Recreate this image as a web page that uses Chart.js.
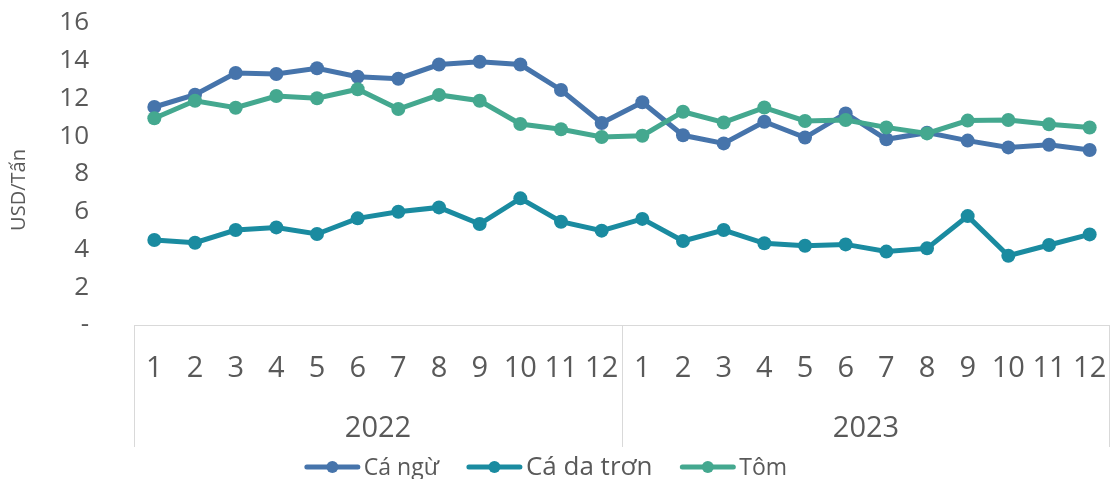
<!DOCTYPE html>
<html>
<head>
<meta charset="utf-8">
<script src="https://cdn.jsdelivr.net/npm/chart.js@4"></script>
<style>
  html, body { margin: 0; padding: 0; background: #fff; }
  #wrap { width: 1111px; height: 479px; }
</style>
</head>
<body>
<div id="wrap"><canvas id="myChart" width="1111" height="479"></canvas></div>
<script>
// data
const months = ["1","2","3","4","5","6","7","8","9","10","11","12",
                "1","2","3","4","5","6","7","8","9","10","11","12"];
const years = ["2022", "2023"];
const caNgu = [11.55, 12.2, 13.35, 13.3, 13.6, 13.15, 13.05, 13.8, 13.95, 13.8, 12.45, 10.7,
               11.8, 10.05, 9.62, 10.77, 9.93, 11.21, 9.84, 10.19, 9.77, 9.41, 9.55, 9.27];
const caDaTron = [4.5, 4.36, 5.03, 5.17, 4.82, 5.65, 6.0, 6.23, 5.35, 6.71, 5.47, 5.0,
                  5.62, 4.45, 5.03, 4.33, 4.2, 4.27, 3.89, 4.06, 5.77, 3.67, 4.24, 4.8];
const tom = [10.95, 11.88, 11.51, 12.13, 12.01, 12.49, 11.44, 12.19, 11.88, 10.65, 10.37, 9.96,
             10.03, 11.3, 10.73, 11.52, 10.81, 10.86, 10.47, 10.15, 10.83, 10.86, 10.63, 10.46];

const blue = '#4674AB';
const teal = '#1A8BA0';
const green = '#44A88F';
const textColor = '#595959';
const lineColor = '#D9D9D9';
const fontFamily = '"Open Sans", "Noto Sans", sans-serif';
const yTitle = 'USD/Tấn';

// legend entries (the middle one is bigger in the original)
const legendItems = [
    { label: "Cá ngừ", color: blue, size: 23 },
    { label: "Cá da trơn", color: teal, size: 26 },
    { label: "Tôm", color: green, size: 23 }
];

const ctx = document.getElementById('myChart');

const axisBoxPlugin = {
    id: 'axisBox',
    afterDraw(chart) {
        const c = chart.ctx;
        const x = chart.scales.x;
        const area = chart.chartArea;
        const bottom = 447;

        c.save();
        c.strokeStyle = lineColor;
        c.lineWidth = 1;
        c.beginPath();
        c.moveTo(x.left, area.bottom + 0.5);
        c.lineTo(x.right, area.bottom + 0.5);
        const half = (x.getPixelForValue(11) + x.getPixelForValue(12)) / 2;
        [x.left, half, x.right - 1].forEach(px => {
            c.moveTo(Math.round(px) + 0.5, area.bottom);
            c.lineTo(Math.round(px) + 0.5, bottom);
        });
        c.stroke();

        // year labels
        c.fillStyle = textColor;
        c.font = '29px ' + fontFamily;
        c.textAlign = 'center';
        c.textBaseline = 'middle';
        years.forEach((yr, i) => {
            const mid = (x.getPixelForValue(i * 12) + x.getPixelForValue(i * 12 + 11)) / 2;
            c.fillText(yr, mid, 429);
        });

        // y axis title
        c.save();
        c.translate(19, 190);
        c.rotate(-Math.PI / 2);
        c.font = '20px ' + fontFamily;
        c.fillText(yTitle, 0, 0);
        c.restore();

        // legend
        const lineLen = 55;
        const gapText = 4;
        const gapItem = 28;
        let total = 0;
        legendItems.forEach((it, i) => {
            c.font = it.size + 'px ' + fontFamily;
            it.w = c.measureText(it.label).width;
            total += lineLen + gapText + it.w + (i > 0 ? gapItem : 0);
        });
        let lx = 546 - total / 2;
        const ly = 467;
        c.textAlign = 'left';
        legendItems.forEach(it => {
            c.strokeStyle = it.color;
            c.lineWidth = 5;
            c.lineCap = 'round';
            c.beginPath();
            c.moveTo(lx + 2, ly);
            c.lineTo(lx + lineLen - 2, ly);
            c.stroke();
            c.fillStyle = it.color;
            c.beginPath();
            c.arc(lx + lineLen / 2, ly, 6, 0, Math.PI * 2);
            c.fill();
            c.fillStyle = textColor;
            c.font = it.size + 'px ' + fontFamily;
            c.fillText(it.label, lx + lineLen + gapText, ly + 1);
            lx += lineLen + gapText + it.w + gapItem;
        });
        c.restore();
    }
};

function series(label, data, color, order) {
    return {
        label: label,
        data: data,
        borderColor: color,
        backgroundColor: color,
        borderWidth: 5,
        pointRadius: 7,
        pointHoverRadius: 7,
        pointBorderWidth: 0,
        tension: 0,
        order: order
    };
}

function noPadding(scale) {
    scale.paddingLeft = 0;
    scale.paddingRight = 0;
    scale.paddingTop = 0;
    scale.paddingBottom = 0;
}

new Chart(ctx, {
    type: 'line',
    data: {
        labels: months,
        datasets: [
            series("Cá ngừ", caNgu, blue, 3),
            series("Cá da trơn", caDaTron, teal, 2),
            series("Tôm", tom, green, 1)
        ]
    },
    options: {
        responsive: false,
        animation: false,
        layout: {
            autoPadding: false,
            padding: { top: 23, right: 1, bottom: 32, left: 0 }
        },
        plugins: {
            legend: { display: false },
            tooltip: { enabled: false }
        },
        scales: {
            x: {
                offset: true,
                grid: { display: false },
                border: { display: false },
                ticks: {
                    color: textColor,
                    font: { family: fontFamily, size: 29 },
                    padding: 18,
                    maxRotation: 0,
                    autoSkip: false
                },
                afterFit: (scale) => {
                    scale.height = 122;
                    noPadding(scale);
                }
            },
            y: {
                min: 0,
                max: 16,
                grid: { display: false },
                border: { display: false },
                ticks: {
                    stepSize: 2,
                    color: textColor,
                    font: { family: fontFamily, size: 26 },
                    padding: 37,
                    callback: (v) => v === 0 ? '-' : v
                },
                afterFit: (scale) => {
                    scale.width = 134;
                    noPadding(scale);
                }
            }
        }
    },
    plugins: [axisBoxPlugin]
});
</script>
</body>
</html>
